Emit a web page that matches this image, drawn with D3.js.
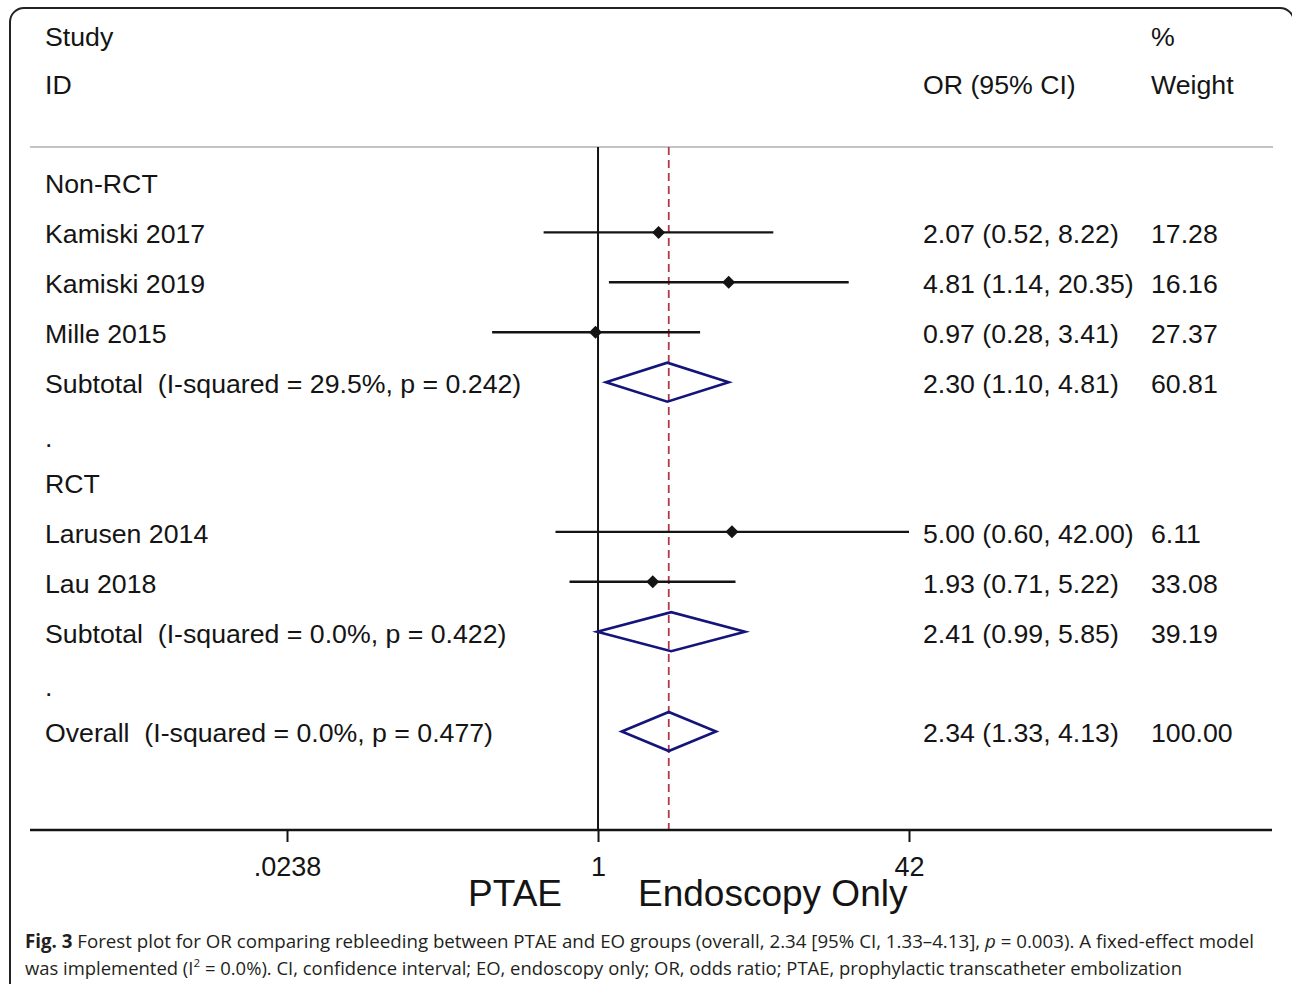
<!DOCTYPE html>
<html>
<head>
<meta charset="utf-8">
<script src="https://cdn.jsdelivr.net/npm/d3@7"></script>
<style>
  html, body { margin: 0; padding: 0; background: #fff; }
  svg { display: block; }
  text { white-space: pre; }
</style>
</head>
<body>
<svg id="chart" width="1292" height="984"></svg>
<script>
// ---------- data ----------
const labels = [
  "Non-RCT",
  "Kamiski 2017",
  "Kamiski 2019",
  "Mille 2015",
  "Subtotal  (I-squared = 29.5%, p = 0.242)",
  ".",
  "RCT",
  "Larusen 2014",
  "Lau 2018",
  "Subtotal  (I-squared = 0.0%, p = 0.422)",
  ".",
  "Overall  (I-squared = 0.0%, p = 0.477)"
];
const rowTypes = ["group","study","study","study","pooled","blank","group","study","study","pooled","blank","pooled"];
const orValues = [null, 2.07, 4.81, 0.97, 2.30, null, null, 5.00, 1.93, 2.41, null, 2.34];
const ciLower  = [null, 0.52, 1.14, 0.28, 1.10, null, null, 0.60, 0.71, 0.99, null, 1.33];
const ciUpper  = [null, 8.22, 20.35, 3.41, 4.81, null, null, 42.00, 5.22, 5.85, null, 4.13];
const weights  = [null, 17.28, 16.16, 27.37, 60.81, null, null, 6.11, 33.08, 39.19, null, 100.00];
const overallOR = 2.34;
const tickValues = [0.0238, 1, 42];
const tickLabels = [".0238", "1", "42"];
const axisTitles = ["PTAE", "Endoscopy Only"];
const headerLeft = ["Study", "ID"];
const headerRight = ["OR (95% CI)"];
const headerWeight = ["%", "Weight"];

// ---------- setup ----------
const svg = d3.select("#chart");
const FONT = "'Liberation Sans', Arial, Helvetica, sans-serif";
const INK = "#141414";
const FS = 26.7;

const x = d3.scaleLog().domain([0.0238, 42]).range([287, 909]);
const y = d3.scaleLinear().domain([0, labels.length - 1]).range([184, 733]);

const topY = 147, axisY = 830;
const colLabel = 45, colCI = 923, colW = 1151;

// frame
svg.append("rect")
  .attr("x", 10).attr("y", 8).attr("width", 1284).attr("height", 1010)
  .attr("rx", 14).attr("ry", 14)
  .attr("fill", "none").attr("stroke", "#222").attr("stroke-width", 2);

// header
const hdr = svg.append("g").attr("font-family", FONT).attr("font-size", FS).attr("fill", INK);
hdr.append("text").attr("x", colLabel).attr("y", 46).text(headerLeft[0]);
hdr.append("text").attr("x", colLabel).attr("y", 94).text(headerLeft[1]);
hdr.append("text").attr("x", colCI).attr("y", 94).text(headerRight[0]);
hdr.append("text").attr("x", colW).attr("y", 46).text(headerWeight[0]);
hdr.append("text").attr("x", colW).attr("y", 94).text(headerWeight[1]);

// separator line
svg.append("line")
  .attr("x1", 30).attr("x2", 1273).attr("y1", topY).attr("y2", topY)
  .attr("stroke", "#c4c4c4").attr("stroke-width", 2);

// null line at OR = 1
svg.append("line")
  .attr("x1", x(1)).attr("x2", x(1)).attr("y1", topY).attr("y2", axisY)
  .attr("stroke", INK).attr("stroke-width", 2);

// overall dashed line
svg.append("line")
  .attr("x1", x(overallOR)).attr("x2", x(overallOR)).attr("y1", topY).attr("y2", axisY)
  .attr("stroke", "#b23a48").attr("stroke-width", 1.8)
  .attr("stroke-dasharray", "8,5");

const rows = labels.map((l, i) => ({
  label: l, type: rowTypes[i], or: orValues[i], lo: ciLower[i], hi: ciUpper[i], w: weights[i], i
}));

// row labels
const f2 = d3.format(".2f");
const txt = svg.append("g").attr("font-family", FONT).attr("font-size", FS).attr("fill", INK);
txt.selectAll("text.lab").data(rows).join("text")
  .attr("class", "lab")
  .attr("x", colLabel)
  .attr("y", d => y(d.i) + (d.type === "blank" ? 4 : 0))
  .attr("dy", "0.35em")
  .text(d => d.label);

const est = rows.filter(d => d.or != null);
txt.selectAll("text.ci").data(est).join("text")
  .attr("class", "ci")
  .attr("x", colCI).attr("y", d => y(d.i)).attr("dy", "0.35em")
  .text(d => `${f2(d.or)} (${f2(d.lo)}, ${f2(d.hi)})`);
txt.selectAll("text.w").data(est).join("text")
  .attr("class", "w")
  .attr("x", colW).attr("y", d => y(d.i)).attr("dy", "0.35em")
  .text(d => f2(d.w));

// study CIs and markers
const studies = rows.filter(d => d.type === "study");
const ym = d => y(d.i) - 1.5;
svg.append("g").selectAll("line").data(studies).join("line")
  .attr("x1", d => x(d.lo)).attr("x2", d => x(d.hi))
  .attr("y1", ym).attr("y2", ym)
  .attr("stroke", INK).attr("stroke-width", 2.4);
svg.append("g").selectAll("path").data(studies).join("path")
  .attr("d", d => {
    const cx = x(d.or), cy = ym(d), r = 6.5;
    return `M${cx - r},${cy}L${cx},${cy - r}L${cx + r},${cy}L${cx},${cy + r}Z`;
  })
  .attr("fill", INK);

// pooled diamonds
const pooled = rows.filter(d => d.type === "pooled");
svg.append("g").selectAll("path").data(pooled).join("path")
  .attr("d", d => {
    const cy = y(d.i) - 1.5, h = 19.5;
    return `M${x(d.lo)},${cy}L${x(d.or)},${cy - h}L${x(d.hi)},${cy}L${x(d.or)},${cy + h}Z`;
  })
  .attr("fill", "none").attr("stroke", "#14147a").attr("stroke-width", 2.6)
  .attr("stroke-linejoin", "miter");

// axis
svg.append("line")
  .attr("x1", 30).attr("x2", 1272).attr("y1", axisY).attr("y2", axisY)
  .attr("stroke", INK).attr("stroke-width", 2.6);
const axis = d3.axisBottom(x)
  .tickValues(tickValues)
  .tickFormat((d, i) => tickLabels[i])
  .tickSize(12).tickPadding(15);
const ag = svg.append("g").attr("transform", `translate(0,${axisY})`).call(axis);
ag.select(".domain").remove();
ag.selectAll(".tick line").attr("stroke", INK).attr("stroke-width", 2);
ag.selectAll(".tick text").attr("font-family", FONT).attr("font-size", 27).attr("fill", INK);

// axis titles
svg.append("text").attr("x", x(1) - 36).attr("y", 906)
  .attr("text-anchor", "end").attr("font-family", FONT).attr("font-size", 37).attr("fill", INK)
  .text(axisTitles[0]);
svg.append("text").attr("x", x(1) + 40).attr("y", 906)
  .attr("text-anchor", "start").attr("font-family", FONT).attr("font-size", 37).attr("fill", INK)
  .text(axisTitles[1]);

// caption
const CAPF = "'Open Sans', 'Noto Sans', sans-serif";
const cap1 = svg.append("text").attr("x", 25).attr("y", 948)
  .attr("font-family", CAPF).attr("font-size", 19).attr("fill", "#231f20");
cap1.append("tspan").attr("font-weight", "bold").text("Fig. 3");
cap1.append("tspan").text(" Forest plot for OR comparing rebleeding between PTAE and EO groups (overall, 2.34 [95% CI, 1.33\u20134.13], ");
cap1.append("tspan").attr("font-style", "italic").text("p");
cap1.append("tspan").text(" = 0.003). A fixed-effect model");

const cap2 = svg.append("text").attr("x", 25).attr("y", 975)
  .attr("font-family", CAPF).attr("font-size", 19).attr("fill", "#231f20");
cap2.append("tspan").text("was implemented (I");
cap2.append("tspan").attr("dy", -8).attr("font-size", 12).text("2");
cap2.append("tspan").attr("dy", 8).text(" = 0.0%). CI, confidence interval; EO, endoscopy only; OR, odds ratio; PTAE, prophylactic transcatheter embolization");

// fit caption widths to the reference span
function fit(t, target) {
  const w = t.node().getBBox().width;
  const s = target / w;
  t.attr("font-size", 19 * s);
  t.selectAll("tspan").each(function() {
    const fs = d3.select(this).attr("font-size");
    if (fs) d3.select(this).attr("font-size", fs * s);
  });
  return s;
}
fit(cap1, 1230);
fit(cap2, 1158);
</script>
</body>
</html>
